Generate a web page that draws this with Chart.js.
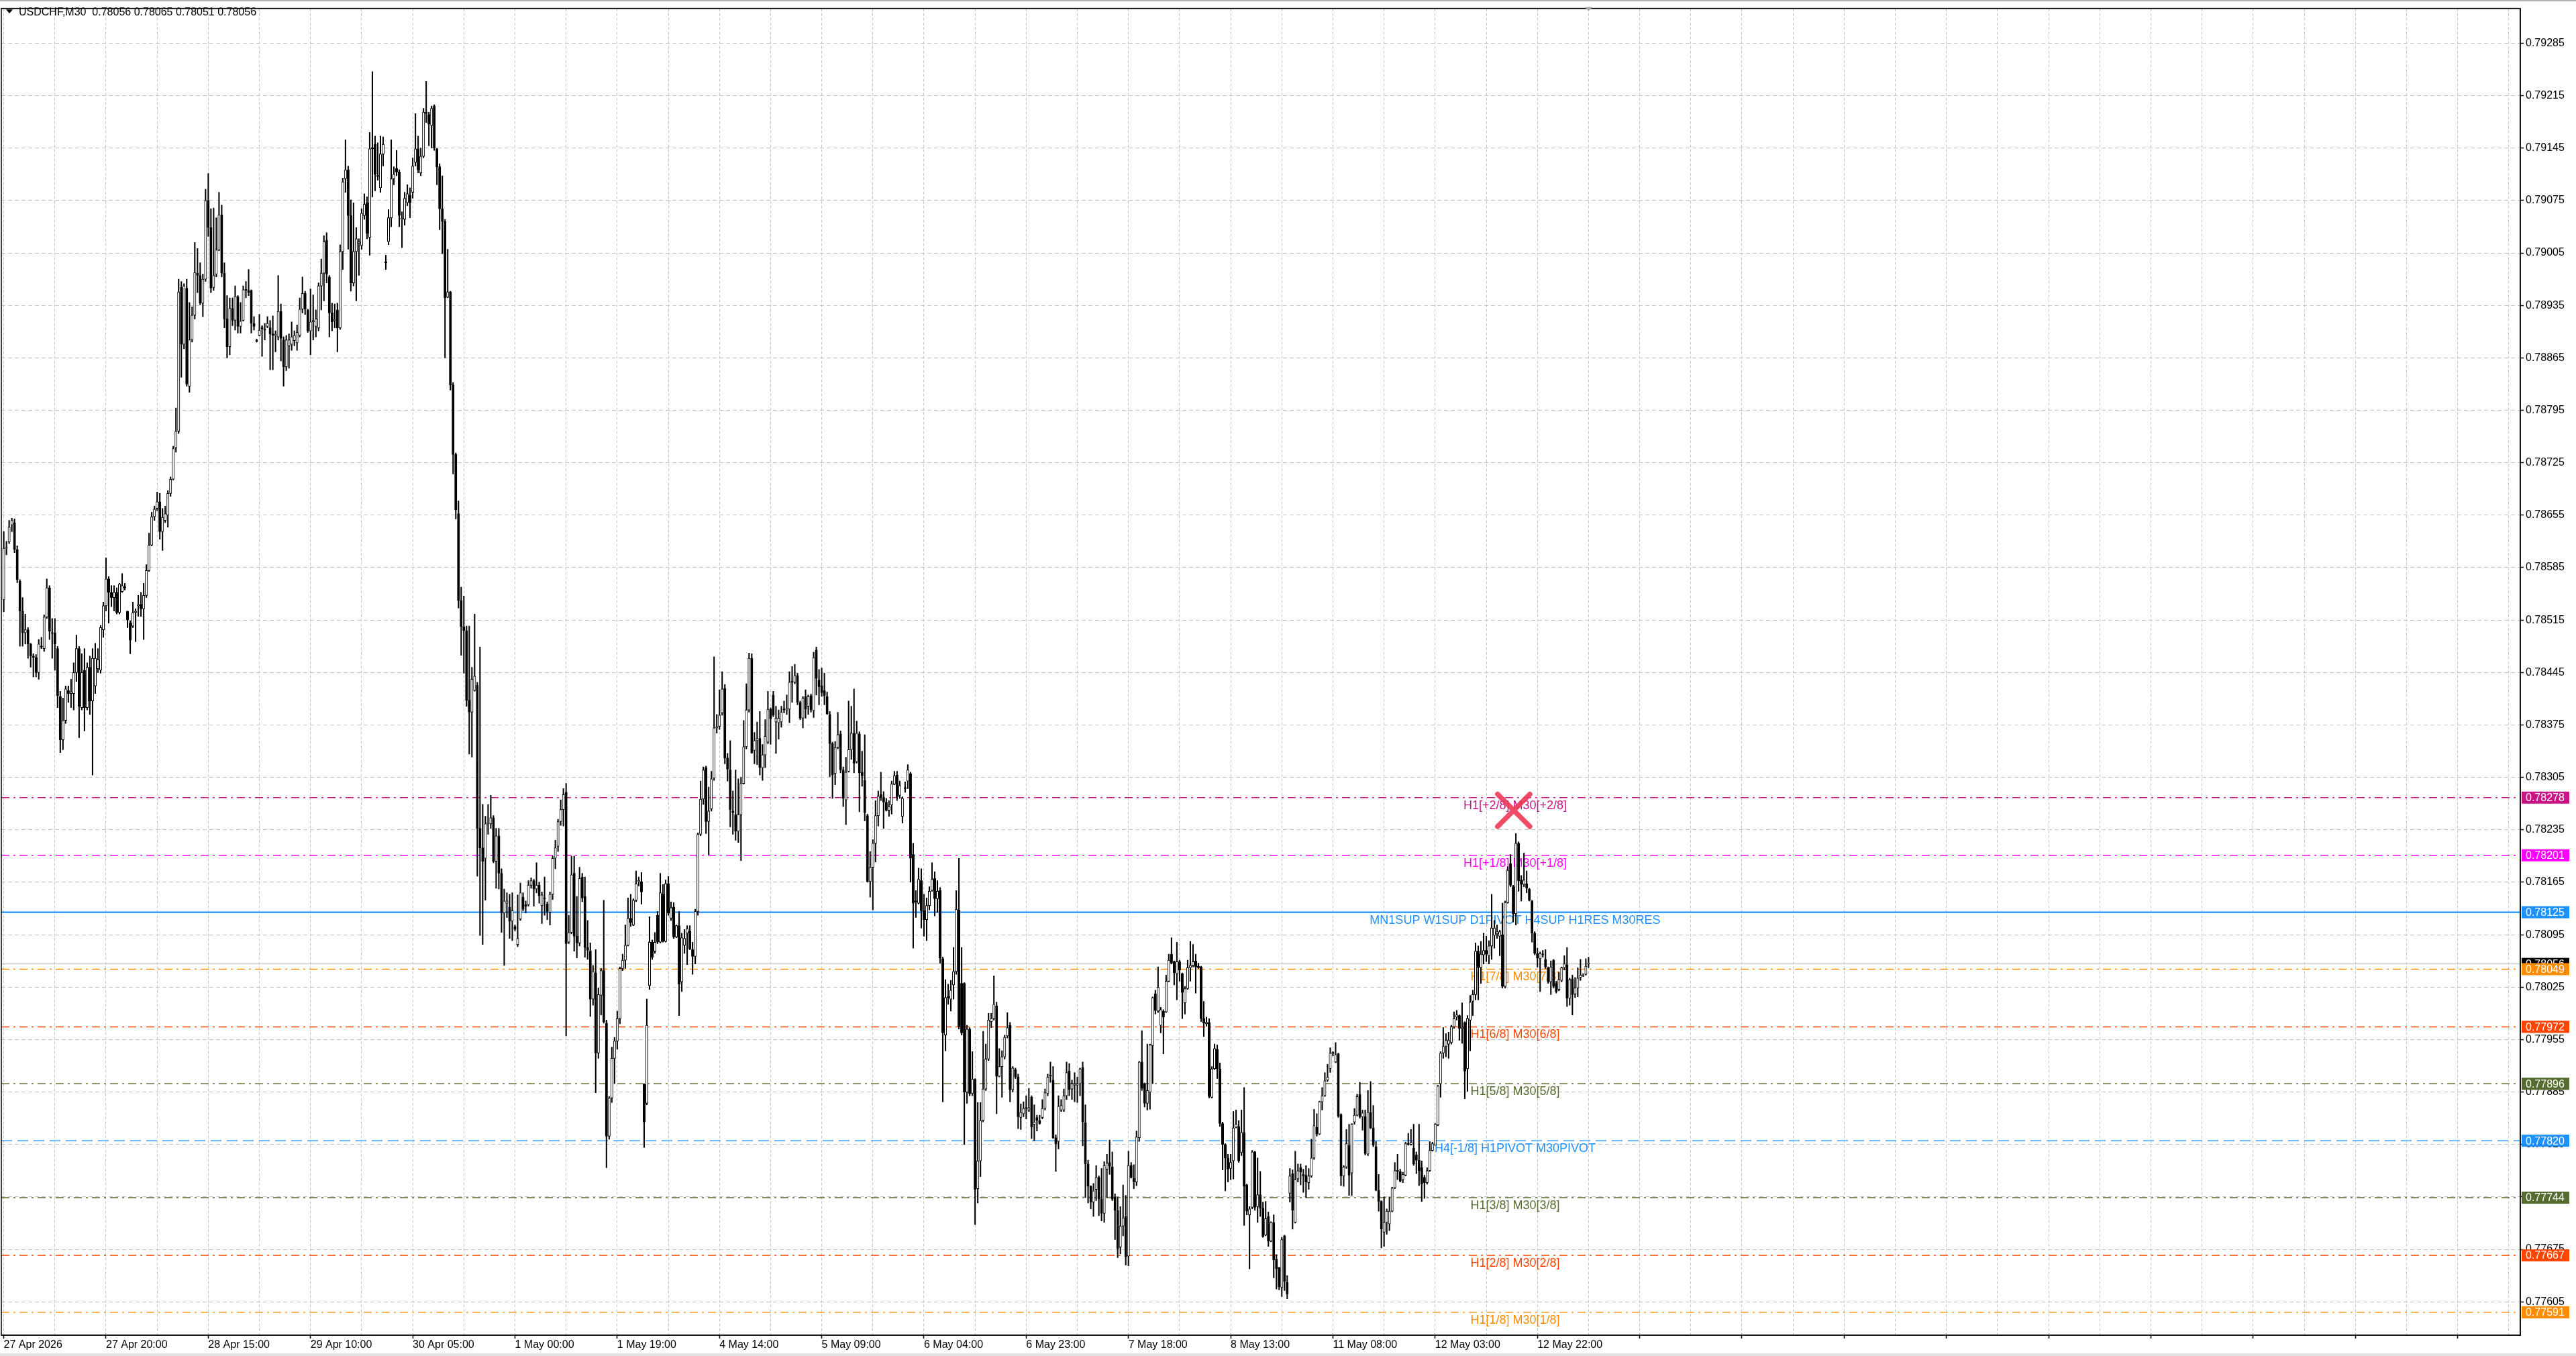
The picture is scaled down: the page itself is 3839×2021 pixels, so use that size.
<!DOCTYPE html>
<html>
<head>
<meta charset="utf-8">
<title>USDCHF,M30</title>
<script src="https://cdn.jsdelivr.net/npm/chart.js@4.4.1/dist/chart.umd.min.js"></script>
<style>
  html, body { margin: 0; padding: 0; background: #fff; overflow: hidden; }
  #wrap { position: relative; width: 3839px; height: 2021px; }
</style>
</head>
<body>
<div id="wrap"><canvas id="chart"></canvas></div>
<script>
// USDCHF M30 candles, prices kept in points (1 point = 0.00001)
const POINT = 0.00001;

const openPts = [
  // 27 Apr - 29 Apr
  78542,78611,78619,78642,78645,78609,78567,78527,78498,78502,
  78483,78467,78465,78445,78480,78477,78519,78558,78498,78498,
  78477,78413,78355,78381,78421,78417,78417,78445,78477,78398,
  78448,78398,78452,78407,78427,78450,78448,78502,78534,78570,
  78552,78545,78552,78525,78553,78559,78527,78511,78507,78525,
  78534,78536,78530,78548,78581,78615,78653,78664,78673,78633,
  78648,78655,78684,78703,78745,78767,78959,78883,78958,78827,
  78889,78922,78978,78975,78938,78970,79075,79039,78959,78977,
  79009,79056,78978,78917,78880,78931,78915,78947,78907,78915,
  78956,78955,78955,78911,78888,78895,78905,78903,78907,
  // 29 Apr - 30 Apr
  78905,78897,78895,78893,78927,78889,78853,78881,78883,78888,
  78885,78895,78930,78951,78929,78901,78913,78907,78905,78961,
  78978,79022,78973,78925,78915,78929,78905,79007,79104,79116,
  79055,78965,79007,79018,79015,79055,79072,79026,79145,79150,
  79108,79092,79137,78993,79020,79052,79104,79118,79113,79050,
  79050,79072,79082,79086,79126,79144,79112,79134,79193,79190,
  79175,79201,79144,79120,79064,79047,78946,78953,78829,78736,
  78657,78541,78506,78501,78408,78392,78421,78428,78237,78211,
  78197,78243,78243,78251,78193,78227,78177,78124,78137,78132,
  78113,78106,78082,78116,78145,78135,78135,78161,78167,78156,
  // 1 May - 4 May
  78161,78134,78144,78136,78125,78149,78197,78213,78246,78262,
  78285,78085,78098,78177,78093,78084,78172,78146,78078,78073,
  78009,78044,77937,78014,78047,77977,77826,77877,77930,77953,
  77983,78050,78061,78081,78117,78108,78141,78166,78166,77895,
  77870,78027,78085,78073,78121,78085,78149,78086,78163,78117,
  78132,78092,78107,78032,78081,78097,78100,78075,78066,78126,
  78229,78276,78318,78246,78263,78304,78371,78373,78391,78424,
  78331,78315,78260,78255,78233,78255,78297,78346,78395,78464,
  78341,78354,78357,78318,78335,78352,78396,78415,78379,78378,
  78379,78396,78395,78396,78433,78432,78441,78405,78384,78413,
  // 5 May - 7 May
  78400,78414,78394,78475,78435,78427,78421,78413,78389,78350,
  78310,78345,78363,78315,78275,78313,78342,78364,78326,78363,
  78312,78301,78254,78166,78185,78217,78254,78282,78278,78272,
  78261,78268,78296,78308,78281,78253,78291,78300,78310,78202,
  78140,78137,78167,78127,78115,78134,78154,78170,78143,78154,
  78063,77961,78012,78009,78028,78046,78128,78030,78030,77885,
  77969,77883,77902,77756,77793,77847,77889,77929,77979,77983,
  78000,77906,77919,77932,77960,77974,77888,77915,77905,77851,
  77856,77864,77861,77878,77842,77851,77847,77851,77863,77883,
  77908,77901,77824,77819,77861,77861,77880,77913,77889,77894,
  // 7 May - 11 May
  77894,77896,77918,77844,77789,77759,77738,77755,77771,77742,
  77723,77782,77791,77785,77745,77727,77678,77706,77719,77666,
  77787,77770,77765,77824,77925,77896,77870,77885,77947,78016,
  77993,77974,77993,77992,78033,78069,78059,78043,78059,78043,
  78004,78023,78051,78054,78060,78053,78052,77983,77976,77978,
  77878,77916,77942,77916,77843,77815,77797,77783,77793,77838,
  77839,77804,77831,77761,77721,77731,77805,77732,77748,77730,
  77694,77719,77686,77711,77662,77651,77624,77693,77631,77750,
  77776,77711,77769,77784,77775,77774,77764,77773,77797,77838,
  77829,77872,77880,77901,77916,77936,77925,77936,77855,77773,
  // 11 May - 13 May
  77785,77814,77777,77845,77854,77882,77852,77852,77802,77858,
  77837,77812,77754,77739,77698,77711,77709,77726,77757,77780,
  77779,77768,77774,77816,77815,77810,77801,77794,77784,77771,
  77764,77780,77807,77814,77841,77896,77937,77946,77949,77951,
  77972,77985,77987,77970,77978,77916,77981,78006,78015,78073,
  78051,78068,78074,78067,78080,78094,78096,78093,78095,78026,
  78138,78190,78159,78123,78217,78168,78162,78163,78156,78140,
  78097,78070,78063,78069,78062,78051,78032,78061,78030,78022,
  78034,78051,78055,78010,78036,78016,78024,78038,78040,78042,
  78056
];

const highPts = [
  78633,78620,78648,78651,78650,78614,78569,78545,78523,78505,
  78484,78470,78469,78489,78492,78522,78570,78561,78517,78517,
  78480,78420,78411,78427,78427,78436,78458,78495,78480,78470,
  78477,78458,78467,78477,78484,78477,78508,78539,78598,78573,
  78561,78561,78558,78564,78577,78564,78527,78514,78539,78530,
  78548,78552,78564,78589,78631,78659,78667,78686,78684,78664,
  78667,78688,78706,78747,78798,78970,78967,78964,78970,78939,
  78933,79019,79011,78992,78977,79090,79111,79064,79065,79052,
  79086,79069,78992,78948,78945,78945,78961,78948,78939,78961,
  78967,78983,78956,78920,78890,78923,78908,78911,78920,

  78915,78921,78901,78975,78937,78893,78895,78897,78913,78901,
  78909,78945,78973,78954,78930,78957,78949,78929,78965,78997,
  79028,79032,78975,78938,78937,78938,79016,79105,79156,79121,
  79076,79072,79039,79024,79064,79084,79080,79166,79247,79161,
  79152,79161,79160,79002,79063,79156,79120,79142,79116,79060,
  79086,79096,79092,79132,79191,79161,79145,79198,79234,79193,
  79201,79203,79145,79124,79108,79050,79010,78954,78832,78738,
  78674,78559,78547,78507,78507,78452,78523,78432,78479,78269,
  78253,78269,78281,78254,78237,78237,78183,78156,78151,78149,
  78151,78108,78148,78164,78151,78140,78167,78171,78169,78191,

  78165,78152,78172,78139,78152,78200,78221,78249,78275,78290,
  78297,78121,78200,78200,78146,78185,78177,78172,78114,78084,
  78054,78075,78024,78050,78141,77981,77879,77945,77958,77993,
  78052,78069,78108,78144,78149,78143,78180,78172,78178,77896,
  78009,78119,78088,78098,78126,78177,78162,78168,78173,78139,
  78138,78108,78126,78097,78102,78107,78107,78085,78129,78231,
  78300,78319,78320,78292,78313,78466,78389,78422,78446,78429,
  78337,78354,78287,78315,78303,78305,78381,78430,78471,78470,
  78365,78379,78393,78349,78382,78420,78398,78420,78400,78395,
  78400,78407,78415,78446,78453,78456,78444,78407,78413,78422,

  78415,78416,78472,78479,78449,78451,78444,78419,78393,78352,
  78353,78392,78367,78319,78332,78407,78400,78423,78380,78366,
  78340,78362,78256,78206,78222,78274,78287,78312,78286,78277,
  78274,78300,78313,78313,78300,78279,78299,78322,78312,78217,
  78154,78184,78183,78149,78144,78159,78191,78179,78167,78158,
  78065,78035,78029,78034,78078,78154,78197,78078,78031,77974,
  77971,77939,77903,77871,77871,77966,77949,77990,77990,78040,
  78005,77943,77940,77961,77991,77978,77919,77917,77909,77869,
  77872,77880,77890,77880,77868,77854,77854,77875,77889,77909,
  77925,77919,77828,77880,77875,77889,77925,77923,77901,77911,

  77905,77917,77925,77868,77794,77760,77763,77787,77773,77783,
  77792,77802,77821,77805,77749,77745,77732,77761,77747,77806,
  77791,77788,77833,77926,77967,77897,77949,77949,78012,78021,
  78052,77998,77995,78041,78069,78091,78060,78085,78061,78044,
  78026,78061,78086,78082,78069,78057,78053,78006,77985,77983,
  77919,77949,77948,77924,77845,77816,77802,77802,77859,77861,
  77847,77861,77891,77762,77732,77807,77806,77797,77779,77738,
  77739,77725,77712,77721,77668,77651,77691,77694,77640,77783,
  77781,77806,77789,77789,77782,77787,77783,77822,77862,77856,
  77873,77891,77911,77922,77944,77939,77951,77937,77856,77787,

  77835,77842,77843,77863,77882,77898,77861,77861,77887,77899,
  77867,77819,77775,77740,77745,77729,77745,77758,77791,77802,
  77782,77778,77818,77830,77835,77842,77805,77842,77793,77774,
  77784,77819,77818,77843,77894,77939,77971,77963,77965,77974,
  77992,77994,77988,78004,77979,77987,78014,78021,78084,78080,
  78086,78097,78093,78087,78149,78114,78108,78101,78137,78140,
  78186,78202,78161,78230,78219,78174,78204,78180,78157,78141,
  78099,78077,78072,78074,78075,78052,78060,78062,78033,78045,
  78052,78067,78078,78037,78041,78038,78051,78062,78043,78063,
  78065
];

const lowPts = [
  78526,78602,78617,78633,78605,78565,78480,78480,78483,78464,
  78452,78439,78439,78436,78477,78473,78517,78489,78464,78448,
  78398,78338,78342,78377,78405,78398,78395,78433,78358,78395,
  78367,78395,78389,78308,78417,78445,78444,78492,78527,78511,
  78533,78527,78523,78523,78552,78555,78505,78470,78505,78486,
  78520,78520,78489,78545,78580,78614,78648,78661,78623,78608,
  78645,78639,78680,78702,78739,78764,78839,78877,78827,78819,
  78886,78917,78952,78936,78920,78967,79027,78952,78955,78973,
  79008,78973,78905,78865,78869,78908,78902,78898,78898,78914,
  78945,78948,78898,78902,78886,78894,78867,78889,78905,

  78849,78849,78873,78889,78861,78827,78848,78851,78875,78881,
  78875,78893,78925,78923,78899,78869,78889,78893,78901,78929,
  78941,78965,78893,78901,78905,78873,78903,78983,79086,79010,
  78954,78961,78941,78975,79010,79050,79024,79002,79080,79088,
  79102,79086,79121,78983,79016,79040,79096,79108,79040,79012,
  79042,79068,79052,79078,79121,79112,79108,79132,79179,79148,
  79145,79142,79096,79036,79004,78865,78945,78822,78710,78650,
  78531,78468,78444,78400,78336,78332,78420,78173,78094,78082,
  78141,78229,78237,78191,78157,78156,78098,78054,78118,78090,
  78087,78100,78079,78114,78127,78124,78133,78157,78133,78151,

  78137,78110,78121,78115,78108,78142,78183,78206,78241,78240,
  77960,78083,78096,78073,78064,78080,78139,78065,78062,77986,
  78001,77884,77930,77988,77977,77784,77822,77871,77896,77942,
  77976,78047,78050,78080,78106,78107,78139,78160,78136,77811,
  77868,78022,78062,78070,78083,78084,78085,78085,78121,78114,
  78090,78091,77987,78019,78070,78055,78075,78042,78056,78121,
  78227,78269,78230,78202,78260,78301,78364,78369,78388,78323,
  78300,78239,78229,78221,78218,78194,78296,78343,78392,78337,
  78323,78322,78308,78301,78318,78350,78349,78386,78337,78356,
  78372,78391,78389,78378,78405,78430,78402,78382,78371,78384,

  78389,78392,78385,78415,78402,78413,78402,78389,78306,78277,
  78295,78343,78311,78266,78242,78312,78329,78311,78324,78259,
  78293,78247,78165,78145,78128,78192,78240,78274,78237,78260,
  78253,78256,78295,78274,78277,78244,78285,78290,78165,78077,
  78118,78136,78104,78093,78087,78128,78153,78120,78125,78057,
  77872,77940,78002,77993,78009,78042,77969,77961,77815,77870,
  77880,77880,77708,77737,77772,77845,77887,77927,77971,77981,
  77856,77905,77878,77929,77957,77872,77885,77903,77836,77835,
  77852,77849,77859,77823,77820,77833,77842,77849,77861,77880,
  77898,77823,77779,77809,77859,77859,77875,77880,77875,77872,

  77871,77880,77813,77744,77737,77729,77719,77740,77720,77713,
  77711,77744,77775,77740,77688,77664,77669,77693,77654,77653,
  77770,77756,77760,77819,77887,77865,77861,77862,77896,77989,
  77991,77964,77936,77991,78032,78056,78028,78008,78033,77983,
  77989,78022,78033,78052,78017,78050,77979,77959,77973,77877,
  77877,77915,77903,77839,77781,77753,77765,77768,77769,77837,
  77791,77800,77707,77721,77649,77729,77727,77711,77719,77691,
  77693,77679,77685,77637,77622,77621,77612,77620,77609,77738,
  77702,77710,77765,77761,77751,77744,77755,77771,77795,77826,
  77828,77861,77879,77899,77911,77933,77924,77851,77760,77759,

  77783,77747,77747,77842,77853,77850,77834,77801,77800,77836,
  77812,77753,77726,77677,77679,77695,77700,77725,77756,77768,
  77765,77764,77773,77814,77814,77787,77776,77760,77739,77743,
  77762,77779,77806,77814,77840,77878,77930,77932,77930,77949,
  77970,77981,77954,77950,77876,77886,77940,77987,78008,78008,
  78030,78056,78059,78056,78062,78077,78090,78067,78024,78024,
  78137,78159,78112,78108,78153,78140,78159,78151,78140,78085,
  78068,78052,78019,78065,78050,78030,78015,78024,78017,78020,
  78032,78048,77999,78001,77988,78011,78012,78034,78039,78041,
  78051
];

const closePts = [
  78611,78611,78639,78648,78609,78569,78527,78498,78502,78483,
  78467,78465,78445,78483,78479,78519,78558,78500,78497,78483,
  78414,78355,78381,78423,78417,78419,78445,78477,78400,78445,
  78398,78452,78407,78464,78464,78462,78505,78534,78570,78552,
  78545,78552,78525,78563,78561,78558,78515,78488,78525,78527,
  78535,78530,78548,78581,78615,78653,78663,78673,78633,78652,
  78657,78684,78703,78744,78767,78953,78883,78961,78830,78889,
  78922,78979,78975,78938,78970,79075,79039,78958,78975,79009,
  79056,78978,78917,78880,78931,78915,78947,78907,78914,78956,
  78955,78952,78911,78907,78887,78902,78904,78902,78911,

  78897,78895,78895,78927,78891,78853,78889,78889,78893,78895,
  78899,78930,78951,78930,78901,78913,78915,78917,78961,78978,
  79020,78977,78925,78913,78916,78905,79007,79100,79116,79055,
  78965,79007,79024,79020,79058,79070,79031,79144,79144,79110,
  79107,79137,79150,78992,79052,79104,79110,79113,79055,79051,
  79078,79084,79072,79121,79144,79116,79134,79193,79191,79177,
  79198,79145,79120,79064,79047,78945,78953,78829,78736,78662,
  78541,78506,78501,78408,78392,78436,78440,78237,78211,78193,
  78243,78245,78251,78193,78227,78177,78124,78140,78140,78113,
  78127,78102,78090,78151,78129,78133,78161,78167,78156,78161,

  78147,78148,78143,78126,78149,78197,78211,78246,78262,78282,
  78083,78098,78175,78093,78084,78170,78144,78078,78074,78009,
  78046,77937,78015,78047,77979,77826,77877,77930,77953,77983,
  78050,78061,78081,78117,78111,78141,78163,78167,78152,77845,
  77974,78085,78065,78085,78085,78151,78086,78163,78124,78131,
  78092,78107,78029,78091,78090,78103,78076,78066,78126,78229,
  78276,78315,78246,78260,78303,78371,78372,78388,78423,78331,
  78316,78262,78258,78233,78255,78297,78346,78395,78464,78338,
  78354,78357,78318,78335,78360,78396,78383,78388,78384,78384,
  78392,78395,78397,78432,78432,78441,78405,78384,78411,78396,

  78413,78395,78465,78437,78426,78418,78414,78390,78350,78308,
  78345,78362,78315,78277,78312,78342,78364,78324,78364,78311,
  78307,78258,78166,78185,78217,78254,78280,78278,78272,78261,
  78266,78296,78307,78279,78294,78277,78290,78315,78197,78137,
  78139,78169,78127,78115,78134,78153,78169,78143,78153,78064,
  77964,78011,78011,78021,78046,78129,77972,77964,77885,77969,
  77883,77902,77755,77793,77847,77889,77929,77981,77983,78002,
  77906,77919,77932,77958,77971,77888,77917,77905,77852,77858,
  77863,77863,77864,77838,77845,77847,77843,77863,77884,77905,
  77906,77824,77816,77866,77867,77880,77911,77888,77896,77894,

  77896,77916,77845,77789,77759,77738,77753,77771,77742,77723,
  77787,77790,77786,77742,77727,77676,77706,77717,77665,77787,
  77771,77765,77825,77925,77890,77870,77887,77948,78011,77994,
  78025,77995,77985,78033,78061,78057,78044,78059,78048,78018,
  78023,78051,78054,78059,78052,78051,77983,77977,77978,77879,
  77916,77943,77916,77843,77815,77797,77782,77791,77837,77842,
  77793,77831,77759,77726,77729,77805,77731,77748,77730,77692,
  77716,77686,77711,77661,77649,77625,77688,77632,77615,77773,
  77727,77768,77780,77778,77773,77765,77773,77797,77840,77829,
  77872,77880,77900,77905,77937,77938,77935,77853,77773,77785,

  77816,77774,77842,77854,77879,77852,77857,77803,77858,77837,
  77814,77754,77739,77702,77711,77726,77726,77757,77780,77779,
  77766,77775,77816,77815,77818,77789,77794,77780,77762,77764,
  77780,77807,77816,77842,77893,77937,77946,77954,77954,77972,
  77983,77988,77970,77971,77913,77983,78005,78015,78073,78051,
  78069,78074,78069,78080,78104,78104,78099,78099,78026,78138,
  78181,78161,78123,78217,78167,78162,78168,78157,78141,78097,
  78070,78064,78070,78068,78052,78032,78052,78026,78019,78035,
  78051,78056,78010,78035,78015,78024,78037,78041,78041,78053,
  78056
];

// time axis: a label every 38 bars, a grid line every 19 bars
const tickLabels = [
  '27 Apr 2026', '27 Apr 20:00', '28 Apr 15:00', '29 Apr 10:00', '30 Apr 05:00',
  '1 May 00:00', '1 May 19:00', '4 May 14:00', '5 May 09:00', '6 May 04:00',
  '6 May 23:00', '7 May 18:00', '8 May 13:00', '11 May 08:00', '12 May 03:00',
  '12 May 22:00'
];
const barsPerLabel = 38;
const barsPerGrid = 19;

const yTicks = [
  0.77605, 0.77675, 0.77745, 0.77815, 0.77885, 0.77955, 0.78025, 0.78095, 0.78165,
  0.78235, 0.78305, 0.78375, 0.78445, 0.78515, 0.78585, 0.78655, 0.78725, 0.78795,
  0.78865, 0.78935, 0.79005, 0.79075, 0.79145, 0.79215, 0.79285
];

// Murrey / pivot levels drawn by the indicator
const levelValues = [0.78278, 0.78201, 0.78125, 0.78049, 0.77972, 0.77896, 0.77820, 0.77744, 0.77667, 0.77591];
const levelNames = [
  'H1[+2/8] M30[+2/8]',
  'H1[+1/8] M30[+1/8]',
  'MN1SUP W1SUP D1PIVOT H4SUP H1RES M30RES',
  'H1[7/8] M30[7/8]',
  'H1[6/8] M30[6/8]',
  'H1[5/8] M30[5/8]',
  'H4[-1/8] H1PIVOT M30PIVOT',
  'H1[3/8] M30[3/8]',
  'H1[2/8] M30[2/8]',
  'H1[1/8] M30[1/8]'
];
const lastPrice = 0.78056;
const headerText = 'USDCHF,M30  0.78056 0.78065 0.78051 0.78056';
const crossMarker = { x: 561.2, y: 0.78261 };

// styles
const FONT = '"Liberation Sans", Arial, sans-serif';
const DASHDOT = [12, 6, 3, 6];
const levelStyles = [
  { color: '#C71585', dash: DASHDOT, width: 1.4 },
  { color: '#FF00FF', dash: DASHDOT, width: 1.4 },
  { color: '#1E90FF', dash: [], width: 2.2 },
  { color: '#FF8C00', dash: DASHDOT, width: 1.4 },
  { color: '#FF4500', dash: DASHDOT, width: 1.4 },
  { color: '#556B2F', dash: DASHDOT, width: 1.4 },
  { color: '#1E90FF', dash: [16, 8], width: 1.4 },
  { color: '#556B2F', dash: DASHDOT, width: 1.4 },
  { color: '#FF4500', dash: DASHDOT, width: 1.4 },
  { color: '#FF8C00', dash: DASHDOT, width: 1.4 }
];
const xMin = -0.9;
const xMax = 935.3;
const levelLabelAt = 561.7;

Chart.defaults.font.family = FONT;
Chart.defaults.font.size = 16;
Chart.defaults.color = '#000';

const idx = closePts.map((_, i) => i);
const wickData = idx.map(i => ({ x: i, y: [lowPts[i] * POINT, highPts[i] * POINT] }));
const bodyData = idx.map(i => ({ x: i, y: [openPts[i] * POINT, closePts[i] * POINT] }));
const bodyFill = idx.map(i => (closePts[i] >= openPts[i] ? '#ffffff' : '#000000'));

const xGridTicks = [];
for (let v = 0; v <= xMax; v += barsPerGrid) xGridTicks.push(v);

const levelDatasets = levelValues.map((v, k) => ({
  type: 'line',
  data: [{ x: xMin, y: v }, { x: xMax, y: v }],
  borderColor: levelStyles[k].color,
  borderWidth: levelStyles[k].width,
  borderDash: levelStyles[k].dash,
  pointRadius: 0,
  order: 4
}));

const mtDecor = {
  id: 'mtDecor',
  beforeDatasetsDraw(chart) {
    const { ctx, scales: { x, y } } = chart;
    ctx.save();
    ctx.font = '18px ' + FONT;
    ctx.textAlign = 'center';
    ctx.textBaseline = 'alphabetic';
    const cx = x.getPixelForValue(levelLabelAt);
    levelValues.forEach((v, k) => {
      ctx.fillStyle = levelStyles[k].color;
      ctx.fillText(levelNames[k], cx, y.getPixelForValue(v) + 17);
    });
    ctx.restore();
  },
  beforeDatasetDraw(chart, args) {
    if (args.index === 0) chart.ctx.lineCap = 'round';
  },
  afterDatasetDraw(chart, args) {
    if (args.index === 0) chart.ctx.lineCap = 'butt';
  },
  afterDraw(chart) {
    const { ctx, chartArea: a, scales: { x, y } } = chart;
    ctx.save();
    // window edges
    ctx.fillStyle = '#b4b4b4';
    ctx.fillRect(0, 0, chart.width, 2);
    ctx.fillStyle = '#e4e4e4';
    ctx.fillRect(0, chart.height - 4, chart.width, 4);
    // chart frame
    ctx.strokeStyle = '#000';
    ctx.lineWidth = 1.5;
    ctx.strokeRect(a.left, a.top, a.right - a.left, a.bottom - a.top);
    // shift marker
    const sx = x.getPixelForValue(closePts.length - 1);
    ctx.fillStyle = '#a8a8a8';
    ctx.beginPath();
    ctx.moveTo(sx - 6, a.top - 2);
    ctx.lineTo(sx + 6, a.top - 2);
    ctx.lineTo(sx, a.top + 4);
    ctx.closePath();
    ctx.fill();
    // price boxes on the axis
    ctx.font = '16px ' + FONT;
    ctx.textAlign = 'left';
    ctx.textBaseline = 'middle';
    const box = (v, color) => {
      const py = y.getPixelForValue(v);
      ctx.fillStyle = color;
      ctx.fillRect(a.right + 2, py - 9, 71, 18);
      ctx.fillStyle = '#fff';
      ctx.fillText(v.toFixed(5), a.right + 8, py + 1);
    };
    box(lastPrice, '#000');
    levelValues.forEach((v, k) => box(v, levelStyles[k].color));
    // header
    ctx.fillStyle = '#000';
    ctx.beginPath();
    ctx.moveTo(9, 14);
    ctx.lineTo(19, 14);
    ctx.lineTo(14, 20);
    ctx.closePath();
    ctx.fill();
    ctx.textBaseline = 'alphabetic';
    ctx.fillText(headerText, 28, 23);
    ctx.restore();
  }
};

const ctx = document.getElementById('chart').getContext('2d');

new Chart(ctx, {
  type: 'bar',
  data: {
    datasets: [
      {
        type: 'scatter',
        data: [crossMarker],
        pointStyle: 'crossRot',
        pointRadius: 34,
        pointBorderWidth: 7.5,
        pointBorderColor: 'rgba(236, 56, 88, 0.9)',
        pointBackgroundColor: 'rgba(236, 56, 88, 0.9)',
        order: 0
      },
      {
        data: bodyData,
        backgroundColor: bodyFill,
        borderColor: '#000',
        borderWidth: 1,
        borderSkipped: false,
        barThickness: 3.4,
        minBarLength: 1.5,
        grouped: false,
        order: 1
      },
      {
        data: wickData,
        backgroundColor: '#000',
        borderWidth: 0,
        barThickness: 1.4,
        grouped: false,
        order: 2
      },
      {
        type: 'line',
        data: [{ x: xMin, y: lastPrice }, { x: xMax, y: lastPrice }],
        borderColor: '#c0c0c0',
        borderWidth: 1.2,
        pointRadius: 0,
        order: 5
      },
      ...levelDatasets
    ]
  },
  options: {
    responsive: true,
    maintainAspectRatio: false,
    animation: false,
    events: [],
    layout: { autoPadding: false, padding: { left: 2, top: 4, right: 0, bottom: 0 } },
    plugins: {
      legend: { display: false },
      tooltip: { enabled: false }
    },
    scales: {
      x: {
        type: 'linear',
        min: xMin,
        max: xMax,
        offset: false,
        afterBuildTicks: s => { s.ticks = xGridTicks.map(v => ({ value: v })); },
        afterFit: s => { s.height = 31; },
        ticks: {
          autoSkip: false,
          maxRotation: 0,
          align: 'start',
          padding: 0,
          color: '#000',
          font: { size: 16 },
          callback: v => (v % barsPerLabel === 0 ? (tickLabels[v / barsPerLabel] || '') : '')
        },
        grid: {
          offset: false,
          color: '#c4c4c4',
          lineWidth: 1,
          tickLength: 5,
          tickWidth: 1.5,
          tickColor: c => (c.tick && c.tick.value % barsPerLabel === 0 ? '#000' : 'rgba(0,0,0,0)')
        },
        border: { display: true, color: '#000', width: 1.5, dash: [4, 3] }
      },
      y: {
        type: 'linear',
        position: 'right',
        min: 0.775604,
        max: 0.793314,
        beginAtZero: false,
        afterBuildTicks: s => { s.ticks = yTicks.map(v => ({ value: v })); },
        afterFit: s => { s.width = 83; },
        ticks: {
          autoSkip: false,
          padding: 3,
          color: '#000',
          font: { size: 16 },
          callback: v => v.toFixed(5)
        },
        grid: {
          color: '#c4c4c4',
          lineWidth: 1,
          tickLength: 5,
          tickWidth: 1.5,
          tickColor: '#000'
        },
        border: { display: true, color: '#000', width: 1.5, dash: [6, 4] }
      }
    }
  },
  plugins: [mtDecor]
});
</script>
</body>
</html>
